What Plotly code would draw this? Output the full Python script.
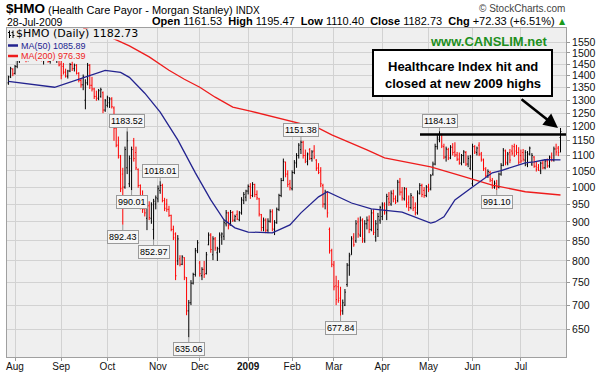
import math
import pandas as pd
import plotly.graph_objects as go

# ---------------- data ----------------
holidays = ["2008-09-01", "2008-11-27", "2008-12-25", "2009-01-01", "2009-01-19",
            "2009-02-16", "2009-04-10", "2009-05-25", "2009-07-03"]
dates = [d.strftime("%Y-%m-%d") for d in pd.bdate_range("2008-07-29", "2009-07-28")
         if d.strftime("%Y-%m-%d") not in holidays]

opens = [1370,1395,1428,1410,1440,1465,1480,1498,1480,1470,
         1494,1510,1495,1478,1492,1505,1468,1480,1490,1462,
         1486,1498,1470,1482,1450,1440,1415,1398,1420,1448,
         1430,1445,1410,1380,1362,1300,1370,1445,1360,1345,
         1315,1308,1315,1330,1262,1280,1290,1305,1270,1195,
         1135,1095,1040,1000,1060,1010,1050,1150,1110,1055,
         1005,970,955,910,945,910,880,950,965,990,
         1005,960,950,935,918,880,868,800,805,792,
         808,760,688,705,748,768,825,795,765,780,
         770,840,865,815,855,820,830,860,862,895,
         925,892,926,905,920,906,925,960,970,988,
         1002,975,1008,978,965,920,885,905,878,902,
         928,880,898,935,975,1020,1078,1040,1010,995,
         1045,1075,1100,1120,1145,1100,1080,1120,1090,1115,
         1085,1060,1050,1005,950,985,880,825,790,742,
         740,715,688,700,745,790,815,860,850,900,
         865,905,850,895,905,880,925,860,880,905,
         915,945,925,965,950,980,965,960,1015,985,
         965,995,955,940,970,940,925,980,1005,990,
         975,1000,995,1040,1072,1130,1155,1172,1130,1095,
         1120,1092,1128,1112,1102,1088,1075,1100,1110,1072,
         1058,1010,1130,1110,1135,1105,1085,1055,1035,1045,
         1020,1000,1010,1000,1040,1068,1115,1075,1110,1115,
         1130,1115,1110,1100,1110,1085,1070,1105,1072,1095,
         1065,1060,1050,1075,1060,1082,1066,1092,1085,1122,
         1125,1161.53]

highs = [1400,1438,1432,1446,1472,1490,1505,1512,1495,1500,
         1520,1525,1508,1500,1515,1512,1485,1498,1494,1490,
         1505,1502,1488,1490,1468,1455,1430,1425,1455,1460,
         1452,1450,1415,1390,1405,1385,1455,1450,1395,1350,
         1338,1345,1350,1335,1305,1318,1312,1312,1276,1200,
         1165,1102,1060,1130,1183.52,1100,1130,1160,1130,1058,
         1008,990,962,955,958,955,965,975,1005,1018.01,
         1010,968,965,945,920,890,872,865,814,814,
         809,762,711,755,772,832,852,800,785,800,
         822,872,870,862,860,835,872,872,905,933,
         928,933,930,920,932,930,970,985,992,1008,
         1012,1015,1010,990,968,922,912,910,910,935,
         935,905,940,980,1028,1090,1080,1052,1022,1052,
         1085,1108,1142,1151.38,1150,1120,1110,1125,1118,1135,
         1088,1075,1062,1010,992,988,885,830,800,765,
         755,740,712,735,795,820,862,870,905,912,
         915,910,905,915,918,935,935,905,925,945,
         955,955,980,985,990,992,975,1022,1028,1000,
         1000,998,975,982,972,955,990,1012,1010,1000,
         1006,1010,1040,1080,1140,1170,1184.13,1175,1140,1130,
         1126,1135,1142,1145,1112,1110,1105,1118,1115,1100,
         1102,1140,1135,1130,1145,1112,1090,1062,1055,1050,
         1028,1020,1022,1045,1075,1125,1120,1112,1122,1136,
         1140,1136,1128,1120,1122,1118,1115,1130,1108,1098,
         1082,1072,1080,1085,1088,1090,1100,1110,1130,1140,
         1132,1195.47]

lows = [1362,1390,1398,1405,1432,1455,1466,1475,1458,1462,
        1485,1488,1470,1465,1480,1462,1448,1470,1456,1452,
        1470,1465,1455,1440,1385,1405,1392,1388,1415,1420,
        1418,1405,1372,1350,1340,1265,1360,1345,1335,1305,
        1298,1300,1310,1250,1255,1272,1270,1268,1150,1128,
        1090,985,892.43,995,1040,1000,990.01,1080,1053,998,
        935,925,915,878,905,895,852.97,935,955,980,
        955,930,928,914,875,852,755,790,787,790,
        755,679,635.06,700,745,763,819,763,755,760,
        768,839,820,802,825,800,820,840,852,888,
        880,890,900,900,905,902,920,950,958,978,
        965,970,970,962,915,875,875,870,870,898,
        875,865,895,930,970,1018,1030,1000,990,990,
        1040,1060,1090,1105,1090,1075,1068,1085,1080,1088,
        1050,1040,1000,940,935,912,818,785,732,700,
        705,677.84,680,698,740,765,815,835,845,858,
        860,845,845,880,870,875,865,848,860,895,
        905,920,905,945,945,955,950,955,975,960,
        960,940,930,935,930,918,920,978,970,968,
        970,985,990,1035,1068,1120,1145,1125,1088,1080,
        1085,1088,1100,1095,1082,1070,1068,1075,1066,1062,
        1052,1003,1105,1100,1098,1080,1050,1030,1028,1015,
        995,995,991.10,996,1035,1065,1068,1068,1075,1100,
        1095,1102,1070,1075,1080,1065,1062,1100,1066,1060,
        1048,1050,1040,1055,1055,1060,1060,1080,1080,1100,
        1098,1110.40]

closes = [1395,1430,1408,1440,1465,1482,1498,1480,1470,1494,
          1510,1495,1478,1492,1505,1468,1480,1490,1462,1486,
          1498,1470,1482,1446,1400,1415,1398,1420,1448,1430,
          1445,1410,1380,1362,1395,1370,1445,1360,1345,1315,
          1308,1338,1342,1262,1298,1310,1305,1275,1195,1135,
          1100,995,1000,1120,1150,1090,1120,1090,1060,1005,
          945,935,925,945,912,948,958,968,995,1005,
          960,938,935,918,880,858,765,855,792,810,
          762,688,705,748,768,825,845,770,780,768,
          815,865,828,855,832,830,865,868,898,925,
          890,926,905,915,908,925,962,978,988,1002,
          975,1008,978,968,922,885,905,878,902,928,
          882,898,935,975,1020,1080,1040,1008,998,1045,
          1078,1100,1135,1145,1100,1085,1105,1090,1112,1095,
          1058,1045,1010,950,985,925,825,792,740,712,
          710,688,705,728,790,812,855,840,895,868,
          905,855,895,905,880,925,872,895,915,940,
          950,930,972,955,982,965,955,1015,985,968,
          995,950,940,975,938,925,982,1005,978,975,
          1000,992,1035,1072,1130,1160,1172,1132,1095,1122,
          1092,1128,1110,1102,1088,1075,1100,1112,1072,1090,
          1095,1130,1112,1125,1105,1088,1058,1035,1048,1022,
          1000,1012,1000,1040,1068,1118,1078,1105,1085,1108,
          1100,1110,1078,1082,1088,1110,1105,1125,1100,1065,
          1055,1052,1075,1060,1082,1066,1095,1085,1122,1112,
          1110.40,1182.73]

# moving averages (bar index, value)
ma50_idx = [0, 21, 44, 51, 55, 62, 69, 77, 85, 92, 98, 103, 109, 120, 128, 133, 141, 145,
            156, 165, 179, 187, 192, 194, 198, 200, 203, 211, 220, 224, 235, 239, 244, 251]
ma50_val = [1376, 1352, 1423, 1414, 1393, 1328, 1254, 1153, 1044, 962, 906, 884, 873, 871,
            892, 925, 971, 986, 953, 936, 927, 908, 897, 900, 914, 933, 962, 1000, 1044,
            1051, 1076, 1079, 1086, 1085.89]
ma200_idx = [34, 42, 48, 55, 64, 73, 80, 87, 94, 102, 110, 117, 126, 132, 141, 147, 156,
             163, 171, 178, 192, 204, 220, 235, 244, 251]
ma200_val = [1617, 1593, 1565, 1532, 1482, 1423, 1385, 1352, 1312, 1273, 1258, 1243, 1225,
             1214, 1195, 1171, 1143, 1119, 1092, 1083, 1063, 1038, 1006, 986, 980, 976.39]

month_ticks = ["2008-08-01", "2008-09-02", "2008-10-01", "2008-11-03", "2008-12-01",
               "2009-01-02", "2009-02-02", "2009-03-02", "2009-04-01", "2009-05-01",
               "2009-06-01", "2009-07-01"]
month_labels = ["Aug", "Sep", "Oct", "Nov", "Dec", "<b>2009</b>", "Feb", "Mar", "Apr",
                "May", "Jun", "Jul"]
y_ticks = [650, 700, 750, 800, 850, 900, 950, 1000, 1050, 1100, 1150, 1200, 1250, 1300,
           1350, 1400, 1450, 1500, 1550]

label_idx = [54, 52, 56, 69, 66, 82, 133, 151, 196, 222]
label_val = [1183.52, 892.43, 990.01, 1018.01, 852.97, 635.06, 1151.38, 677.84, 1184.13, 991.10]
label_side = ["up", "down", "down", "up", "down", "down", "up", "down", "up", "down"]

# ---------------- layout helpers (pixel -> paper) ----------------
W, H = 601, 374
PL, PR, PT, PB = 7, 566, 28, 357


def PX(x):
    return (x - PL) / (PR - PL)


def PY(y):
    return (PB - y) / (PB - PT)


BASE = "Liberation Sans, Arial, sans-serif"
NAVY = "#23238f"
RED = "#ee1c1c"
PLOTBG = "#efefef"

fig = go.Figure()
fig.add_trace(go.Ohlc(
    x=dates, open=opens, high=highs, low=lows, close=closes,
    increasing=dict(line=dict(color="#000000", width=1)),
    decreasing=dict(line=dict(color="#ff0000", width=1)),
    tickwidth=0.4, hoverinfo="skip", showlegend=False))
fig.add_trace(go.Scatter(
    x=[dates[i] for i in ma200_idx], y=ma200_val, mode="lines",
    line=dict(color=RED, width=1.3), hoverinfo="skip", showlegend=False))
fig.add_trace(go.Scatter(
    x=[dates[i] for i in ma50_idx], y=ma50_val, mode="lines",
    line=dict(color=NAVY, width=1.3), hoverinfo="skip", showlegend=False))

ann = []


def txt(x, y, text, size=11, color="#000", family=BASE, xanchor="left", **kw):
    d = dict(x=PX(x), y=PY(y), xref="paper", yref="paper", text=text, showarrow=False,
             xanchor=xanchor, yanchor="middle",
             font=dict(size=size, color=color, family=family))
    d.update(kw)
    ann.append(d)


# header
txt(4, 8.5, "<b>$HMO</b>", size=13.5)
txt(46, 9.5, "(Health Care Payor - Morgan Stanley) <span style='font-size:10px'>INDX</span>", size=11)
txt(5, 22, "28-Jul-2009", size=10.5)
txt(557, 21.5, "<b>Open</b> 1161.53&nbsp; <b>High</b> 1195.47&nbsp; <b>Low</b> 1110.40&nbsp; "
    "<b>Close</b> 1182.73&nbsp; <b>Chg</b> +72.33 (+6.51%)", size=11, xanchor="right")
txt(562.5, 21, "▲", size=8, color="#1a9a1a", family="DejaVu Sans", xanchor="center")
txt(567, 8.5, "© StockCharts.com", size=10, color="#444", xanchor="right")

# in-chart legend
txt(14, 34, "$HMO (Daily) 1182.73", size=11, family="DejaVu Sans")
txt(18.5, 45.5, "MA(50) 1085.89", size=9, color=NAVY)
txt(18.5, 56, "MA(200) 976.39", size=9, color=RED)

# promo + callout
txt(488, 41.5, "<b>www.CANSLIM.net</b>", size=13, color="#1d8f1d", xanchor="center")
txt(462.5, 66.5, "<b>Healthcare Index hit and</b>", size=13, xanchor="center")
txt(462.5, 83.5, "<b>closed at new 2009 highs</b>", size=13, xanchor="center")

# big arrow
ann.append(dict(x=PX(558), y=PY(128), xref="paper", yref="paper", text="",
                showarrow=True, ax=-38, ay=-30, arrowhead=2, arrowsize=1.1,
                arrowwidth=2.6, arrowcolor="#000"))

# value labels
for i, v, s in zip(label_idx, label_val, label_side):
    ann.append(dict(x=i, y=math.log10(v), xref="x", yref="y", text=f"{v:.2f}",
                    showarrow=True, ax=0, ay=(-10 if s == "up" else 12),
                    arrowhead=0, arrowwidth=1, arrowcolor="#9a9a9a",
                    bgcolor="#f6f6f6", bordercolor="#9a9a9a", borderwidth=1, borderpad=1,
                    font=dict(size=9, color="#000", family=BASE)))

shapes = [
    # legend backgrounds hiding the bars beneath the legend text
    dict(type="rect", xref="paper", yref="paper", x0=PX(7.5), x1=PX(146), y0=PY(39.5),
         y1=PY(28.5), line=dict(width=0), fillcolor=PLOTBG, layer="above"),
    dict(type="rect", xref="paper", yref="paper", x0=PX(7.5), x1=PX(90), y0=PY(61),
         y1=PY(39.5), line=dict(width=0), fillcolor=PLOTBG, layer="above"),
    dict(type="rect", xref="paper", yref="paper", x0=PX(373), x1=PX(552), y0=PY(50),
         y1=PY(96), line=dict(color="#000", width=2), fillcolor="#ffffff", layer="above"),
    dict(type="line", xref="paper", yref="paper", x0=PX(420), x1=1, y0=PY(134.5),
         y1=PY(134.5), line=dict(color="#000", width=2.5)),
    dict(type="line", xref="paper", yref="paper", x0=PX(8), x1=PX(18), y0=PY(45.5),
         y1=PY(45.5), line=dict(color=NAVY, width=2.5)),
    dict(type="line", xref="paper", yref="paper", x0=PX(8), x1=PX(18), y0=PY(56),
         y1=PY(56), line=dict(color=RED, width=2.5)),
]
# small OHLC icon
for cx in (9.5, 13.0):
    shapes.append(dict(type="line", xref="paper", yref="paper", x0=PX(cx), x1=PX(cx),
                       y0=PY(30.5), y1=PY(38), line=dict(color="#000", width=1)))
    shapes.append(dict(type="line", xref="paper", yref="paper", x0=PX(cx - 1.5), x1=PX(cx),
                       y0=PY(32.5), y1=PY(32.5), line=dict(color="#000", width=1)))
    shapes.append(dict(type="line", xref="paper", yref="paper", x0=PX(cx), x1=PX(cx + 1.5),
                       y0=PY(35.5), y1=PY(35.5), line=dict(color="#000", width=1)))

fig.update_layout(
    width=W, height=H, autosize=False,
    margin=dict(l=PL, r=W - PR, t=PT, b=H - PB, pad=0, autoexpand=False),
    paper_bgcolor="#ffffff", plot_bgcolor=PLOTBG,
    font=dict(family=BASE, size=10, color="#111"),
    showlegend=False, hovermode=False,
    annotations=ann, shapes=shapes,
    xaxis=dict(type="category", range=[-0.64, 253.5], tickvals=month_ticks,
               ticktext=month_labels, showgrid=True, gridcolor="#d2d2d2", gridwidth=1,
               ticks="outside", ticklen=3, tickcolor="#999", tickfont=dict(size=10),
               ticklabelstandoff=-3,
               showline=True, linecolor="#a0a0a0", mirror=True, zeroline=False,
               automargin=False, rangeslider=dict(visible=False), fixedrange=True),
    yaxis=dict(type="log", range=[math.log10(598.5), math.log10(1617)], side="right",
               tickvals=y_ticks, ticktext=[str(t) for t in y_ticks], showgrid=True,
               gridcolor="#d2d2d2", gridwidth=1, ticks="outside", ticklen=3,
               tickcolor="#999", tickfont=dict(size=10.5), showline=True,
               linecolor="#a0a0a0", mirror=True, zeroline=False, automargin=False,
               fixedrange=True),
)

fig.write_html("out.html", config={"displayModeBar": False},
               post_script="document.body.style.margin='0';"
                           "document.body.style.overflow='hidden';")
